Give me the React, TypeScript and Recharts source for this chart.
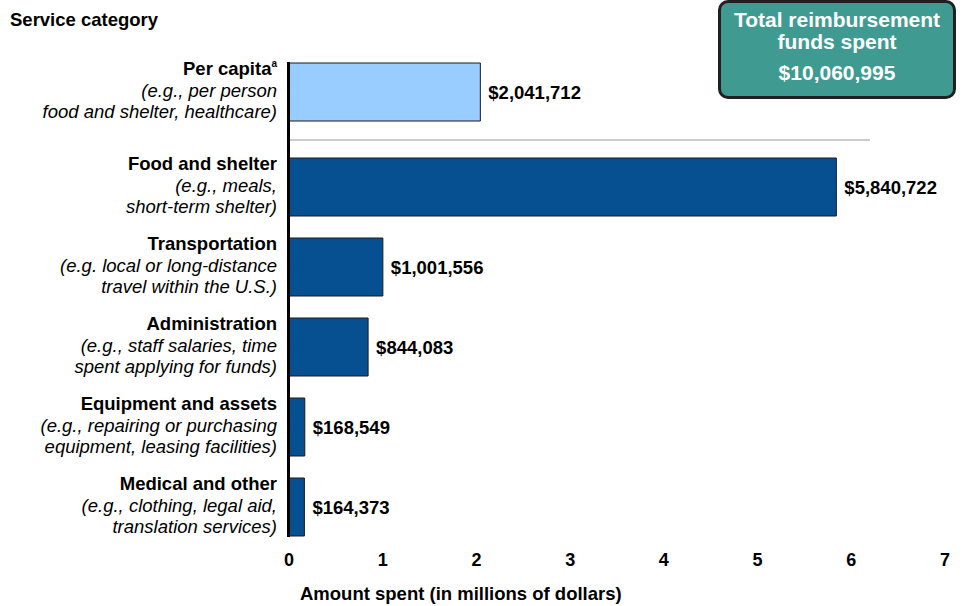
import { BarChart, Bar, XAxis, YAxis, LabelList } from 'recharts';

// service categories, the short description under each, and dollars spent
const categories = [
  'Per capita',
  'Food and shelter',
  'Transportation',
  'Administration',
  'Equipment and assets',
  'Medical and other',
];
const examples = [
  ['(e.g., per person', 'food and shelter, healthcare)'],
  ['(e.g., meals,', 'short-term shelter)'],
  ['(e.g. local or long-distance', 'travel within the U.S.)'],
  ['(e.g., staff salaries, time', 'spent applying for funds)'],
  ['(e.g., repairing or purchasing', 'equipment, leasing facilities)'],
  ['(e.g., clothing, legal aid,', 'translation services)'],
];
const amounts = [2041712, 5840722, 1001556, 844083, 168549, 164373];
const xTicks = [0, 1, 2, 3, 4, 5, 6, 7];
const totalSpent = 10060995;

const FONT = '"Liberation Sans", Arial, sans-serif';
const PLOT_LEFT = 289;
const PLOT_RIGHT_MARGIN = 20;
const WIDTH = 965;
const TXT = 18.5;

const rows = categories.map((category, i) => ({
  category,
  amount: amounts[i],
  millions: amounts[i] / 1e6,
}));
const perCapitaRows = rows.slice(0, 1);
const otherRows = rows.slice(1);

const money = (v: number) => '$' + v.toLocaleString('en-US');

// multi-line category label: bold name, italic examples
const CategoryTick = ({ x, y, payload }: any) => {
  const i = categories.indexOf(payload.value);
  const lines = examples[i] || [];
  const tx = x - 4;
  return (
    <text x={tx} y={y} textAnchor="end" fontFamily={FONT} fontSize={TXT} fill="#000">
      <tspan x={tx} y={y - 22} fontWeight="bold" dominantBaseline="middle">
        {payload.value}
        {i === 0 && (
          <tspan fontSize={10} dy={-6}>
            a
          </tspan>
        )}
      </tspan>
      {lines.map((l, k) => (
        <tspan key={k} x={tx} y={y + k * 21.5} fontStyle="italic" dominantBaseline="middle">
          {l}
        </tspan>
      ))}
    </text>
  );
};

const valueLabelStyle = { fontFamily: FONT, fontSize: TXT, fontWeight: 'bold', fill: '#000' } as const;

export default function App() {
  return (
    <div
      style={{
        position: 'absolute',
        left: 0,
        top: 0,
        width: WIDTH,
        height: 606,
        background: '#fff',
        fontFamily: FONT,
        overflow: 'hidden',
      }}
    >
      <div style={{ position: 'absolute', left: 10, top: 9, fontSize: TXT, fontWeight: 'bold' }}>
        Service category
      </div>

      {/* total box */}
      <div
        style={{
          position: 'absolute',
          left: 718,
          top: 0,
          width: 232,
          height: 93,
          border: '3px solid #231f20',
          borderRadius: 10,
          background: '#3f9b91',
          color: '#fff',
          fontWeight: 'bold',
          textAlign: 'center',
        }}
      >
        <div style={{ fontSize: 21, lineHeight: '22px', marginTop: 6 }}>
          Total reimbursement
          <br />
          funds spent
        </div>
        <div style={{ fontSize: 21, lineHeight: '24px', marginTop: 8 }}>{money(totalSpent)}</div>
      </div>

      {/* per capita bar */}
      <div style={{ position: 'absolute', left: 0, top: 43 }}>
        <BarChart
          width={WIDTH}
          height={98}
          layout="vertical"
          data={perCapitaRows}
          margin={{ top: 20, right: PLOT_RIGHT_MARGIN, bottom: 20, left: 0 }}
          barCategoryGap={0}
        >
          <XAxis type="number" domain={[0, 7]} ticks={xTicks} hide />
          <YAxis
            type="category"
            dataKey="category"
            width={PLOT_LEFT}
            axisLine={false}
            tickLine={false}
            tick={<CategoryTick />}
          />
          <Bar dataKey="millions" fill="#99ccff" stroke="#1a1a1a" strokeWidth={1} isAnimationActive={false}>
            <LabelList
              dataKey="amount"
              position="right"
              offset={8}
              formatter={(v: any) => money(Number(v))}
              style={valueLabelStyle}
            />
          </Bar>
        </BarChart>
      </div>

      {/* separator */}
      <div
        style={{ position: 'absolute', left: 290, top: 139, width: 580, height: 2, background: '#cccccc' }}
      />

      {/* other categories */}
      <div style={{ position: 'absolute', left: 0, top: 147 }}>
        <BarChart
          width={WIDTH}
          height={430}
          layout="vertical"
          data={otherRows}
          margin={{ top: 0, right: PLOT_RIGHT_MARGIN, bottom: 0, left: 0 }}
          barCategoryGap={11}
        >
          <XAxis
            type="number"
            domain={[0, 7]}
            ticks={xTicks}
            axisLine={false}
            tickLine={false}
            tickSize={4}
            height={30}
            tick={{ fontFamily: FONT, fontSize: 18, fontWeight: 'bold', fill: '#000' }}
          />
          <YAxis
            type="category"
            dataKey="category"
            width={PLOT_LEFT}
            axisLine={false}
            tickLine={false}
            tick={<CategoryTick />}
          />
          <Bar dataKey="millions" fill="#064f91" stroke="#1a1a1a" strokeWidth={1} isAnimationActive={false}>
            <LabelList
              dataKey="amount"
              position="right"
              offset={8}
              formatter={(v: any) => money(Number(v))}
              style={valueLabelStyle}
            />
          </Bar>
        </BarChart>
      </div>

      {/* vertical axis line */}
      <div style={{ position: 'absolute', left: 287, top: 62, width: 3, height: 475, background: '#000' }} />

      <div style={{ position: 'absolute', left: 300, top: 583, fontSize: TXT, fontWeight: 'bold' }}>
        Amount spent (in millions of dollars)
      </div>
    </div>
  );
}
